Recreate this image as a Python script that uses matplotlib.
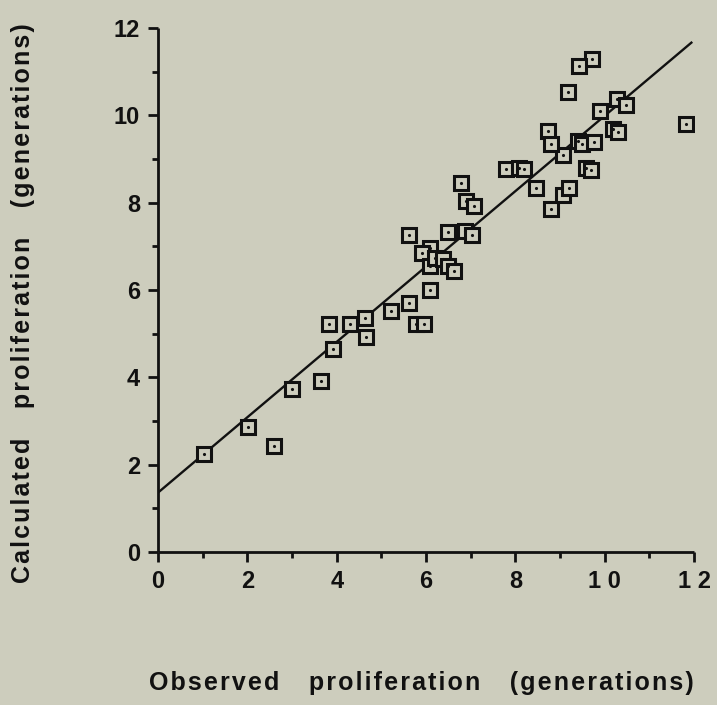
import numpy as np
import matplotlib
matplotlib.use('Agg')
import matplotlib.pyplot as plt

# observed vs calculated proliferation (generations)
obs = [1.02, 2.01, 2.59, 3.01, 3.65, 3.91, 3.82, 4.29, 4.63, 4.66,
       5.21, 5.62, 5.77, 5.96, 6.09, 5.62, 6.49, 6.09, 5.91, 6.09,
       6.19, 6.39, 6.49, 6.63, 6.79, 6.90, 7.08, 6.88, 7.03, 7.79,
       8.07, 8.19, 8.47, 8.79, 9.06, 9.19, 9.06, 8.73, 8.79, 9.41,
       9.49, 9.77, 9.57, 9.70, 10.18, 10.30, 11.81, 9.72, 9.42, 9.18,
       9.89, 10.28, 10.47]
calc = [2.24, 2.86, 2.43, 3.74, 3.92, 4.64, 5.23, 5.23, 5.35, 4.93,
        5.53, 5.70, 5.23, 5.23, 6.00, 7.27, 7.32, 6.97, 6.84, 6.56,
        6.74, 6.72, 6.56, 6.43, 8.46, 8.03, 7.92, 7.34, 7.27, 8.77,
        8.80, 8.77, 8.33, 7.86, 8.17, 8.33, 9.10, 9.64, 9.34, 9.41,
        9.34, 9.40, 8.80, 8.74, 9.68, 9.62, 9.79, 11.30, 11.12, 10.53,
        10.11, 10.37, 10.23]

# regression line
intercept = 1.36
slope = 0.863
x_end = 11.94

xticks = [0, 2, 4, 6, 8, 10, 12]
xticklabels = ['0', '2', '4', '6', '8', '1 0', '1 2']
yticks = [0, 2, 4, 6, 8, 10, 12]
yticklabels = ['0', '2', '4', '6', '8', '10', '12']
xlabel = 'Observed   proliferation   (generations)'
ylabel = 'Calculated   proliferation   (generations)'

bg = '#cdcdbd'
ink = '#111111'
plt.rcParams['font.family'] = ['Liberation Sans', 'DejaVu Sans']

def spaced(s):
    # typewriter-ish letter spacing of the original
    return '\u200a'.join(s)

fig = plt.figure(figsize=(7.17, 7.05), dpi=100, facecolor=bg)
ax = fig.add_axes([0.2204, 0.217, 0.7476, 0.7433], facecolor=bg)

lx = np.array([0, x_end])
ax.plot(lx, intercept + slope*lx, color=ink, lw=1.7, zorder=2)
ax.plot(obs, calc, 's', ms=9.5, mfc=bg, mec=ink, mew=2.2, zorder=3)
ax.plot(obs, calc, '.', ms=2.5, color=ink, zorder=4)

ax.set_xlim(0, 12)
ax.set_ylim(0, 12)
ax.spines['top'].set_visible(False)
ax.spines['right'].set_visible(False)
for s in ['left', 'bottom']:
    ax.spines[s].set_linewidth(2.0)
    ax.spines[s].set_color(ink)
    ax.spines[s].set_capstyle('butt')

ax.set_xticks(xticks)
ax.set_xticklabels(xticklabels)
ax.set_yticks(yticks)
ax.set_yticklabels(yticklabels)
ax.set_xticks(np.arange(1, 12, 2), minor=True)
ax.set_yticks(np.arange(1, 12, 2), minor=True)
ax.tick_params(which='major', length=7, width=2, color=ink, labelsize=17,
               labelcolor=ink, pad=6)
ax.tick_params(which='minor', length=4, width=2, color=ink)
for t in ax.get_xticklabels() + ax.get_yticklabels():
    t.set_fontweight('bold')

fig.text(0.587, 0.031, spaced(xlabel),
         ha='center', va='center', fontsize=18, fontweight='bold', color=ink)
fig.text(0.032, 0.57, spaced(ylabel),
         ha='center', va='center', rotation=90, fontsize=18,
         fontweight='bold', color=ink)

plt.savefig('out.png', dpi=100, facecolor=bg)
